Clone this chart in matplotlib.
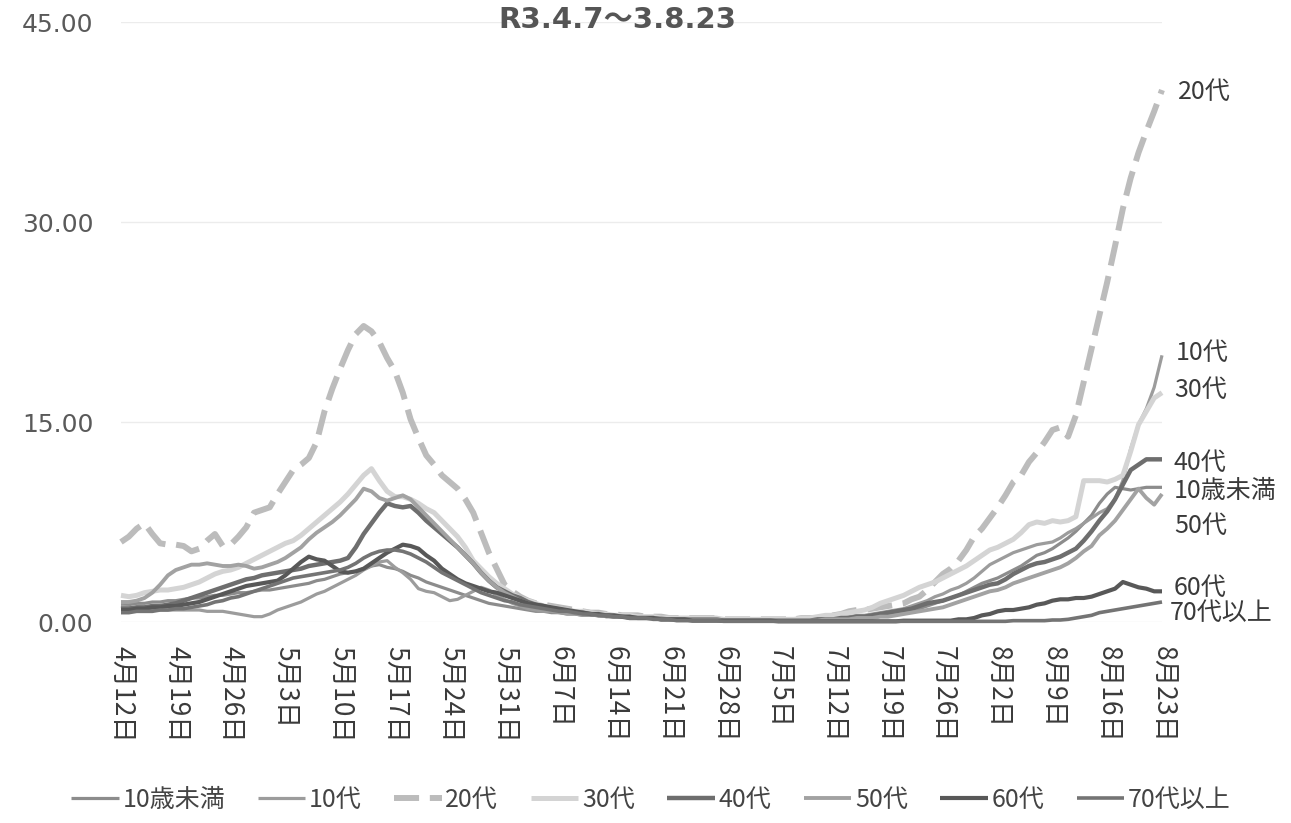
import numpy as np
import matplotlib
matplotlib.use("Agg")
import matplotlib.pyplot as plt

plt.rcParams['font.family'] = ['Noto Sans CJK JP', 'DejaVu Sans']

title = "R3.4.7～3.8.23"
series_names = ["10歳未満", "10代", "20代", "30代", "40代", "50代", "60代", "70代以上"]
tick_labels = ["4月12日", "4月19日", "4月26日", "5月3日", "5月10日", "5月17日", "5月24日",
               "5月31日", "6月7日", "6月14日", "6月21日", "6月28日", "7月5日", "7月12日",
               "7月19日", "7月26日", "8月2日", "8月9日", "8月16日", "8月23日"]
y_ticks = [0, 15, 30, 45]

# daily values from 4/12 to 8/23 (one row per week)
under10 = [1.3, 1.3, 1.4, 1.4, 1.5, 1.5, 1.6,
           1.6, 1.7, 1.8, 1.8, 1.9, 2.0, 2.0,
           2.1, 2.2, 2.2, 2.3, 2.4, 2.4, 2.5,
           2.6, 2.7, 2.8, 2.9, 3.1, 3.2, 3.4,
           3.6, 3.7, 3.8, 4.0, 4.2, 4.3, 4.1,
           4.0, 3.8, 3.5, 3.3, 3.0, 2.8, 2.6,
           2.4, 2.2, 2.0, 1.8, 1.6, 1.4, 1.3,
           1.2, 1.1, 1.0, 0.9, 0.8, 0.8, 0.7,
           0.7, 0.6, 0.6, 0.5, 0.5, 0.5, 0.4,
           0.4, 0.4, 0.3, 0.3, 0.3, 0.3, 0.3,
           0.2, 0.2, 0.2, 0.2, 0.2, 0.2, 0.2,
           0.2, 0.2, 0.1, 0.1, 0.1, 0.1, 0.1,
           0.1, 0.1, 0.1, 0.1, 0.1, 0.2, 0.2,
           0.2, 0.2, 0.3, 0.3, 0.4, 0.4, 0.5,
           0.6, 0.7, 0.8, 0.9, 1.0, 1.2, 1.4,
           1.6, 1.8, 2.0, 2.3, 2.6, 2.9, 3.1,
           3.3, 3.6, 3.9, 4.2, 4.6, 5.0, 5.2,
           5.5, 5.9, 6.3, 6.8, 7.4, 8.0, 8.9,
           9.6, 10.1, 10.0, 9.9, 10.0, 10.1, 10.1,
           10.1]
teens = [1.2, 1.1, 1.0, 1.0, 0.9, 0.9, 0.9,
         0.9, 0.9, 0.9, 0.9, 0.8, 0.8, 0.8,
         0.7, 0.6, 0.5, 0.4, 0.4, 0.6, 0.9,
         1.1, 1.3, 1.5, 1.8, 2.1, 2.3, 2.6,
         2.9, 3.2, 3.5, 3.9, 4.2, 4.5, 4.6,
         4.1, 3.7, 3.2, 2.5, 2.3, 2.2, 1.9,
         1.6, 1.7, 2.0, 2.3, 2.6, 2.4, 2.0,
         1.7, 1.4, 1.2, 1.0, 0.9, 0.8, 0.8,
         0.7, 0.6, 0.6, 0.5, 0.5, 0.5, 0.4,
         0.4, 0.4, 0.3, 0.3, 0.3, 0.3, 0.3,
         0.2, 0.2, 0.2, 0.2, 0.2, 0.2, 0.2,
         0.2, 0.2, 0.2, 0.2, 0.2, 0.2, 0.2,
         0.1, 0.1, 0.1, 0.1, 0.2, 0.2, 0.2,
         0.3, 0.3, 0.4, 0.5, 0.5, 0.6, 0.7,
         0.8, 0.9, 1.0, 1.2, 1.4, 1.6, 1.9,
         2.1, 2.4, 2.6, 2.9, 3.3, 3.8, 4.3,
         4.6, 4.9, 5.2, 5.4, 5.6, 5.8, 5.9,
         6.0, 6.3, 6.7, 7.0, 7.4, 7.8, 8.2,
         8.5, 9.2, 10.6, 13.0, 14.8, 16.0, 17.6,
         20.0]
twenties = [6.0, 6.4, 7.0, 7.4, 6.6, 5.9, 5.8,
            5.8, 5.7, 5.3, 5.5, 6.1, 6.6, 5.7,
            5.8, 6.4, 7.1, 8.2, 8.4, 8.6, 9.6,
            10.5, 11.4, 11.8, 12.3, 13.5, 15.8, 17.5,
            19.0, 20.4, 21.6, 22.2, 21.8, 21.0, 19.8,
            18.8, 17.2, 15.2, 13.8, 12.5, 11.8, 11.0,
            10.5, 10.0, 9.2, 8.2, 6.7, 5.2, 4.0,
            2.8, 2.3, 1.9, 1.6, 1.4, 1.3, 1.2,
            1.1, 1.0, 0.9, 0.8, 0.7, 0.7, 0.6,
            0.6, 0.5, 0.5, 0.5, 0.4, 0.4, 0.4,
            0.3, 0.3, 0.3, 0.3, 0.3, 0.3, 0.3,
            0.2, 0.2, 0.2, 0.2, 0.2, 0.2, 0.2,
            0.2, 0.2, 0.2, 0.3, 0.3, 0.3, 0.4,
            0.5, 0.6, 0.8, 0.9, 0.9, 1.0, 1.1,
            1.2, 1.3, 1.4, 1.7, 1.9, 2.4, 3.0,
            3.6, 4.0, 4.6, 5.4, 6.4, 7.0, 7.8,
            8.6, 9.5, 10.5, 11.0, 12.0, 12.7, 13.5,
            14.4, 14.6, 13.9, 15.5, 18.0, 20.5, 23.0,
            25.5, 28.2, 31.0, 33.3, 35.2, 36.8, 38.3,
            39.9]
thirties = [2.0, 1.9, 2.0, 2.2, 2.3, 2.4, 2.4,
            2.5, 2.6, 2.8, 3.0, 3.3, 3.6, 3.8,
            3.9, 4.1, 4.4, 4.7, 5.0, 5.3, 5.6,
            5.9, 6.1, 6.5, 7.0, 7.5, 8.0, 8.5,
            9.0, 9.6, 10.3, 11.0, 11.5, 10.6, 9.8,
            9.4, 9.4, 9.2, 8.9, 8.5, 8.2, 7.6,
            7.0, 6.4, 5.6, 4.6, 4.0, 3.4, 2.9,
            2.5, 2.1, 1.8, 1.6, 1.4, 1.2, 1.1,
            1.0, 0.9, 0.8, 0.8, 0.7, 0.6, 0.6,
            0.5, 0.5, 0.5, 0.4, 0.4, 0.4, 0.3,
            0.3, 0.3, 0.3, 0.3, 0.3, 0.3, 0.3,
            0.2, 0.2, 0.2, 0.2, 0.2, 0.2, 0.2,
            0.2, 0.2, 0.2, 0.3, 0.3, 0.4, 0.5,
            0.5, 0.6, 0.7, 0.8, 0.9, 1.1, 1.4,
            1.6, 1.8, 2.0, 2.3, 2.6, 2.8, 3.0,
            3.3, 3.6, 3.9, 4.2, 4.6, 5.0, 5.4,
            5.6, 5.9, 6.2, 6.7, 7.3, 7.5, 7.4,
            7.6, 7.5, 7.6, 7.9, 10.6, 10.6, 10.6,
            10.5, 10.7, 11.0, 12.8, 14.8, 15.8, 16.8,
            17.2]
forties = [1.0, 1.0, 1.1, 1.1, 1.2, 1.2, 1.3,
           1.4, 1.6, 1.8, 2.0, 2.2, 2.4, 2.6,
           2.8, 3.0, 3.2, 3.3, 3.5, 3.6, 3.7,
           3.8, 3.9, 4.0, 4.2, 4.3, 4.4, 4.5,
           4.6, 4.8, 5.6, 6.6, 7.4, 8.2, 8.9,
           8.7, 8.6, 8.7, 8.2, 7.6, 7.1, 6.6,
           6.1, 5.6, 5.0, 4.4, 3.7, 3.1, 2.6,
           2.3, 2.0, 1.8, 1.5, 1.3, 1.2, 1.0,
           0.9, 0.8, 0.7, 0.7, 0.6, 0.5, 0.5,
           0.4, 0.4, 0.3, 0.3, 0.3, 0.3, 0.2,
           0.2, 0.2, 0.2, 0.2, 0.2, 0.2, 0.2,
           0.1, 0.1, 0.1, 0.1, 0.1, 0.1, 0.1,
           0.1, 0.1, 0.1, 0.1, 0.1, 0.2, 0.2,
           0.2, 0.3, 0.3, 0.4, 0.4, 0.5, 0.6,
           0.7, 0.8, 0.9, 1.0, 1.2, 1.4, 1.5,
           1.6, 1.8, 2.0, 2.2, 2.4, 2.6, 2.8,
           2.9, 3.2, 3.6, 3.9, 4.2, 4.4, 4.5,
           4.7, 4.9, 5.2, 5.5, 6.1, 6.8, 7.6,
           8.3, 9.2, 10.3, 11.4, 11.8, 12.2, 12.2,
           12.2]
fifties = [1.5, 1.5, 1.6, 1.8, 2.2, 2.8, 3.5,
           3.9, 4.1, 4.3, 4.3, 4.4, 4.3, 4.2,
           4.2, 4.3, 4.2, 4.0, 4.1, 4.3, 4.5,
           4.8, 5.2, 5.6, 6.2, 6.7, 7.1, 7.5,
           8.0, 8.6, 9.2, 10.0, 9.8, 9.3, 9.1,
           9.3, 9.5, 9.2, 8.6, 8.0, 7.4, 6.8,
           6.2, 5.6, 5.0, 4.4, 3.7, 3.1, 2.6,
           2.2, 1.9, 1.6, 1.4, 1.2, 1.0, 0.9,
           0.8, 0.7, 0.7, 0.6, 0.6, 0.5, 0.5,
           0.4, 0.4, 0.4, 0.3, 0.3, 0.3, 0.3,
           0.2, 0.2, 0.2, 0.2, 0.2, 0.2, 0.2,
           0.1, 0.1, 0.1, 0.1, 0.1, 0.1, 0.1,
           0.1, 0.1, 0.1, 0.1, 0.1, 0.1, 0.2,
           0.2, 0.2, 0.2, 0.3, 0.3, 0.3, 0.4,
           0.4, 0.5, 0.6, 0.7, 0.8, 0.9, 1.0,
           1.1, 1.3, 1.5, 1.7, 1.9, 2.1, 2.3,
           2.4, 2.6, 2.9, 3.1, 3.3, 3.5, 3.7,
           3.9, 4.1, 4.4, 4.8, 5.3, 5.7, 6.5,
           7.0, 7.6, 8.4, 9.2, 10.0, 9.3, 8.8,
           9.6]
sixties = [0.9, 0.9, 1.0, 1.0, 1.1, 1.1, 1.2,
           1.2, 1.3, 1.4, 1.5, 1.7, 1.9, 2.1,
           2.3, 2.5, 2.7, 2.8, 2.9, 3.0, 3.1,
           3.5, 4.0, 4.5, 4.9, 4.7, 4.6, 4.2,
           3.8, 3.7, 3.8, 4.0, 4.4, 4.8, 5.2,
           5.5, 5.8, 5.7, 5.5, 5.0, 4.6, 4.0,
           3.6, 3.2, 2.9, 2.7, 2.5, 2.3, 2.2,
           2.0, 1.8, 1.6, 1.4, 1.3, 1.2, 1.1,
           1.0, 0.9, 0.8, 0.7, 0.6, 0.6, 0.5,
           0.5, 0.4, 0.4, 0.3, 0.3, 0.3, 0.2,
           0.2, 0.2, 0.2, 0.1, 0.1, 0.1, 0.1,
           0.1, 0.1, 0.1, 0.1, 0.1, 0.1, 0.1,
           0.05, 0.05, 0.05, 0.05, 0.05, 0.05, 0.05,
           0.05, 0.05, 0.05, 0.05, 0.05, 0.05, 0.05,
           0.05, 0.05, 0.1, 0.1, 0.1, 0.1, 0.1,
           0.1, 0.1, 0.2, 0.2, 0.3, 0.5, 0.6,
           0.8, 0.9, 0.9, 1.0, 1.1, 1.3, 1.4,
           1.6, 1.7, 1.7, 1.8, 1.8, 1.9, 2.1,
           2.3, 2.5, 3.0, 2.8, 2.6, 2.5, 2.3,
           2.3]
over70 = [0.7, 0.7, 0.8, 0.8, 0.8, 0.9, 0.9,
          1.0, 1.0, 1.1, 1.2, 1.3, 1.5, 1.6,
          1.8, 1.9, 2.1, 2.3, 2.5, 2.7, 2.9,
          3.1, 3.3, 3.4, 3.5, 3.6, 3.7, 3.8,
          3.9, 4.1, 4.4, 4.8, 5.1, 5.3, 5.4,
          5.4, 5.3, 5.1, 4.8, 4.5, 4.1, 3.7,
          3.4, 3.1, 2.8, 2.5, 2.2, 2.0, 1.8,
          1.6, 1.5, 1.3, 1.2, 1.1, 1.0, 0.9,
          0.8, 0.8, 0.7, 0.6, 0.6, 0.5, 0.5,
          0.4, 0.4, 0.3, 0.3, 0.3, 0.2, 0.2,
          0.2, 0.1, 0.1, 0.1, 0.1, 0.1, 0.1,
          0.05, 0.05, 0.05, 0.05, 0.05, 0.05, 0.05,
          0.05, 0.05, 0.05, 0.05, 0.05, 0.05, 0.05,
          0.05, 0.05, 0.05, 0.05, 0.05, 0.05, 0.05,
          0.05, 0.05, 0.05, 0.05, 0.05, 0.05, 0.05,
          0.05, 0.05, 0.05, 0.05, 0.05, 0.05, 0.05,
          0.05, 0.05, 0.1, 0.1, 0.1, 0.1, 0.1,
          0.15, 0.15, 0.2, 0.3, 0.4, 0.5, 0.7,
          0.8, 0.9, 1.0, 1.1, 1.2, 1.3, 1.4,
          1.5]

data = [under10, teens, twenties, thirties, forties, fifties, sixties, over70]

# styles
colors = ['#8c8c8c', '#9c9c9c', '#bcbcbc', '#d4d4d4', '#6e6e6e', '#a2a2a2', '#585858', '#747474']
widths = [2.3, 2.3, 4.3, 3.6, 3.2, 2.8, 3.0, 2.6]
styles = ['-', '-', (0, (4.2, 1.8)), '-', '-', '-', '-', '-']
# label offsets (pixels) from the last point of each series
label_dx = [12, 14, 16, 12, 12, 12, 12, 8]
label_dy = [-4, 2, -2, 3, -4, -32, 3, -11]

fig = plt.figure(figsize=(12.91, 8.23), dpi=100)
ax = fig.add_axes([121 / 1291, 201 / 823, 1041 / 1291, 600 / 823])

n = len(twenties)
x = np.arange(n)
for name, vals, c, lw, ls in zip(series_names, data, colors, widths, styles):
    ax.plot(x, vals, color=c, lw=lw, linestyle=ls, label=name,
            solid_capstyle='butt', dash_capstyle='butt', clip_on=False)

for name, vals, c, dx, dy in zip(series_names, data, colors, label_dx, label_dy):
    ax.annotate(name, xy=(x[-1], vals[-1]), xytext=(dx, dy), textcoords='offset pixels',
                ha='left', va='center', fontsize=18, color='#3a3a3a')

ax.set_xlim(0, n - 1)
ax.set_ylim(0, 45)
ax.set_yticks(y_ticks)
ax.set_yticklabels([f"{v:.2f}" for v in y_ticks], fontsize=18, color='#5a5a5a',
                   family=['DejaVu Sans'])
ax.set_xticks(np.arange(0, n, 7))
ax.set_xticklabels(tick_labels, rotation=270, fontsize=19, color='#3a3a3a')
ax.tick_params(axis='both', length=0)
ax.tick_params(axis='y', pad=20)
ax.tick_params(axis='x', pad=17)
for s in ax.spines.values():
    s.set_visible(False)
ax.yaxis.grid(True, color='#ececec', lw=1.0)
ax.set_axisbelow(True)

fig.text(617 / 1291, 1 - 20 / 823, title, ha='center', va='center', fontsize=21,
         fontweight='bold', color='#555555', family=['DejaVu Sans', 'Noto Sans CJK JP'])

leg = fig.legend(loc='center', bbox_to_anchor=(651 / 1291, 1 - 800 / 823), ncol=8,
                 frameon=False, fontsize=18, handlelength=1.9, handletextpad=0.15,
                 columnspacing=1.3, labelcolor='#444444')

fig.savefig('out.png', dpi=100)
